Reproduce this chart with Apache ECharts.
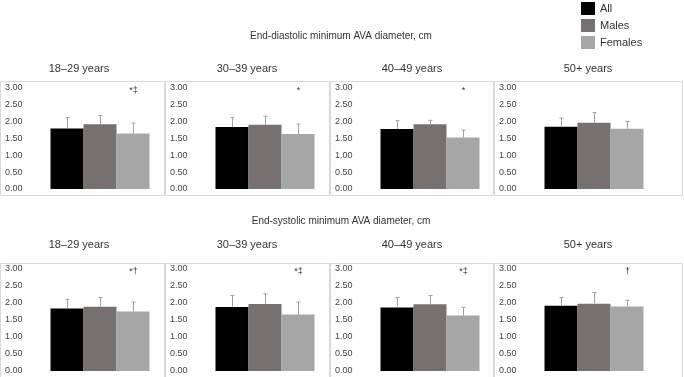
<!DOCTYPE html>
<html>
<head>
<meta charset="utf-8">
<script src="https://cdn.jsdelivr.net/npm/echarts@6/dist/echarts.min.js"></script>
<style>
html, body { margin: 0; padding: 0; background: #fff; }
#chart { width: 684px; height: 377px; }
</style>
</head>
<body>
<div id="chart"></div>
<script>
// age groups (panels)
var groups = ['18–29 years', '30–39 years', '40–49 years', '50+ years'];
var seriesNames = ['All', 'Males', 'Females'];
var colors = ['#000000', '#767171', '#a6a6a6'];

// end-diastolic means / SD
var diastAll = [1.80, 1.84, 1.78, 1.85];
var diastMales = [1.92, 1.91, 1.92, 1.97];
var diastFemales = [1.65, 1.63, 1.53, 1.79];
var diastAllSd = [0.32, 0.28, 0.25, 0.26];
var diastMalesSd = [0.26, 0.25, 0.12, 0.30];
var diastFemalesSd = [0.31, 0.30, 0.22, 0.22];
var diastNotes = ['*‡', '*', '*', ''];

// end-systolic means / SD
var systAll = [1.84, 1.88, 1.87, 1.92];
var systMales = [1.89, 1.97, 1.96, 1.98];
var systFemales = [1.75, 1.66, 1.63, 1.90];
var systAllSd = [0.27, 0.34, 0.29, 0.24];
var systMalesSd = [0.27, 0.30, 0.26, 0.33];
var systFemalesSd = [0.28, 0.37, 0.24, 0.18];
var systNotes = ['*†', '*‡', '*‡', '†'];

var rows = [
    { title: 'End-diastolic minimum AVA diameter, cm', means: [diastAll, diastMales, diastFemales], sds: [diastAllSd, diastMalesSd, diastFemalesSd], notes: diastNotes },
    { title: 'End-systolic minimum AVA diameter, cm', means: [systAll, systMales, systFemales], sds: [systAllSd, systMalesSd, systFemalesSd], notes: systNotes }
];

var font = "'Liberation Sans', Arial, sans-serif";
var panelX = [0, 165, 330, 494];
var panelW = [165, 165, 164, 189];
var ageX = [79, 247, 412, 588];
var rowTitleY = [31, 216];
var ageY = [64, 240];
var panelY = [81, 263];
var gridTop = [88, 269];
var gridH = [101, 102];
var BW = 33;

var option = {
    animation: false,
    textStyle: { fontFamily: font },
    legend: {
        data: seriesNames,
        orient: 'vertical',
        left: 576, top: -3,
        icon: 'rect',
        itemWidth: 14, itemHeight: 13, itemGap: 4,
        textStyle: { fontSize: 11, color: '#333', fontFamily: font }
    },
    title: [], grid: [], xAxis: [], yAxis: [], series: [], graphic: []
};

rows.forEach(function (row, r) {
    // title padding shifts text by 5px, so subtract it
    option.title.push({
        text: row.title, left: 336, top: rowTitleY[r], textAlign: 'center', textVerticalAlign: 'middle',
        textStyle: { fontSize: 10, fontWeight: 'normal', color: '#333', fontFamily: font }
    });
    groups.forEach(function (g, c) {
        var gi = r * 4 + c;
        var notes = row.notes;
        option.title.push({
            text: g, left: ageX[c] - 5, top: ageY[r], textAlign: 'center', textVerticalAlign: 'middle',
            textStyle: { fontSize: 11, fontWeight: 'normal', color: '#333', fontFamily: font }
        });
        option.graphic.push({
            type: 'rect', z: -1, silent: true,
            shape: { x: panelX[c] + 0.5, y: panelY[r] + 0.5, width: panelW[c] - 1, height: 114 },
            style: { fill: 'none', stroke: '#d9d9d9', lineWidth: 1 }
        });
        option.grid.push({ left: panelX[c] + 40, top: gridTop[r], width: 120, height: gridH[r] });
        option.xAxis.push({
            type: 'category', gridIndex: gi, data: [g],
            axisLine: { show: false }, axisTick: { show: false }, axisLabel: { show: false }
        });
        option.yAxis.push({
            type: 'value', gridIndex: gi, min: 0, max: 3, interval: 0.5,
            axisLine: { show: false }, axisTick: { show: false }, splitLine: { show: false },
            axisLabel: {
                align: 'left', margin: 35, fontSize: 9, color: '#444', fontFamily: font,
                formatter: function (v) { return v.toFixed(2); }
            }
        });
        seriesNames.forEach(function (name, k) {
            option.series.push({
                name: name, type: 'bar', xAxisIndex: gi, yAxisIndex: gi,
                barWidth: BW, barGap: '0%',
                itemStyle: { color: colors[k] },
                data: [row.means[k][c]]
            });
        });
        option.series.push({
            name: 'err', type: 'custom', xAxisIndex: gi, yAxisIndex: gi, z: 5,
            data: seriesNames.map(function (n, k) { return [0, row.means[k][c], row.sds[k][c], k]; }),
            renderItem: function (params, api) {
                var k = api.value(3);
                var base = api.coord([api.value(0), api.value(1)]);
                var top = api.coord([api.value(0), api.value(1) + api.value(2)]);
                var x = Math.round(base[0] + (k - 1) * BW) + 0.5;
                var children = [
                    { type: 'line', shape: { x1: x, y1: base[1], x2: x, y2: top[1] }, style: { stroke: '#a0a0a0', lineWidth: 1 } },
                    { type: 'line', shape: { x1: x - 2, y1: top[1], x2: x + 2, y2: top[1] }, style: { stroke: '#a0a0a0', lineWidth: 1 } }
                ];
                if (k === 2 && notes[c]) {
                    var ty = api.coord([0, 3])[1];
                    children.push({
                        type: 'text', x: x, y: ty + 3,
                        style: { text: notes[c], fill: '#333', fontSize: 9, fontFamily: font, align: 'center', verticalAlign: 'middle' }
                    });
                }
                return { type: 'group', children: children };
            }
        });
    });
});

var chart = echarts.init(document.getElementById('chart'));
chart.setOption(option);
</script>
</body>
</html>
